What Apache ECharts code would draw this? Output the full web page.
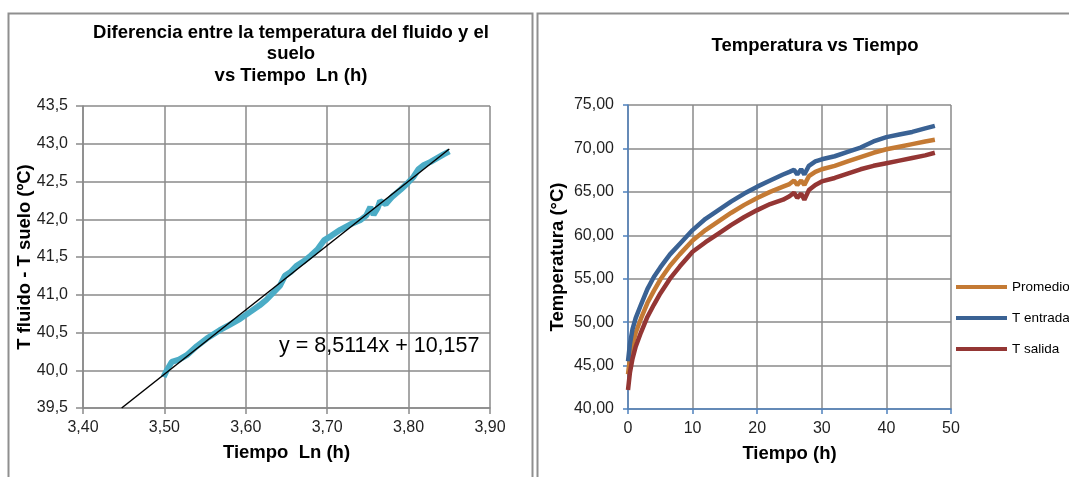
<!DOCTYPE html>
<html>
<head>
<meta charset="utf-8">
<script src="https://cdn.jsdelivr.net/npm/echarts@6/dist/echarts.min.js"></script>
<style>
  html, body { margin: 0; padding: 0; background: #fff; }
  #chart { width: 1069px; height: 477px; }
</style>
</head>
<body>
<div id="chart"></div>
<script>
// grafico 1: diferencia fluido - suelo vs ln(t)
const lnTiempo = [3.499, 3.503, 3.509, 3.518, 3.5275, 3.54, 3.552, 3.568, 3.58, 3.593, 3.605, 3.617, 3.625, 3.634, 3.642, 3.648, 3.655, 3.662, 3.672, 3.68, 3.688, 3.696, 3.705, 3.716, 3.728, 3.741, 3.748, 3.753, 3.757, 3.762, 3.765, 3.772, 3.78, 3.79, 3.798, 3.806, 3.812, 3.819, 3.827, 3.835, 3.843, 3.85];
const difTemp = [39.91, 40.0, 40.11, 40.14, 40.2, 40.32, 40.42, 40.53, 40.6, 40.68, 40.77, 40.86, 40.93, 41.03, 41.12, 41.25, 41.3, 41.38, 41.45, 41.52, 41.6, 41.72, 41.78, 41.86, 41.93, 41.99, 42.05, 42.16, 42.06, 42.15, 42.24, 42.2, 42.3, 42.39, 42.47, 42.56, 42.66, 42.72, 42.76, 42.81, 42.86, 42.9];
// linea de tendencia (extremos)
const tendX = [3.4475, 3.85];
const tendY = [39.5, 42.93];

// grafico 2: temperaturas vs tiempo
const tiempo = [0, 0.3, 0.7, 1.2, 2, 3, 4, 5, 6.5, 8, 10, 12, 14, 16, 18, 20, 22, 24, 25, 25.7, 26.2, 26.8, 27.3, 28, 29, 30, 32, 34, 36, 38, 40, 42, 44, 46, 47.5];
const promedio = [44.0, 45.8, 47.4, 48.8, 50.4, 52.2, 53.6, 54.9, 56.5, 57.8, 59.4, 60.6, 61.6, 62.6, 63.5, 64.3, 65.0, 65.6, 65.9, 66.3, 65.8, 66.3, 65.8, 66.8, 67.3, 67.6, 68.0, 68.5, 69.0, 69.5, 69.9, 70.2, 70.5, 70.8, 71.0];
const tEntrada = [45.5, 47.5, 49.2, 50.5, 52.0, 53.8, 55.2, 56.3, 57.8, 59.0, 60.6, 61.9, 62.9, 63.9, 64.8, 65.6, 66.3, 67.0, 67.3, 67.55, 67.0, 67.6, 67.0, 68.0, 68.5, 68.75, 69.1, 69.6, 70.1, 70.8, 71.3, 71.6, 71.9, 72.3, 72.6];
const tSalida = [42.2, 44.2, 45.8, 47.2, 48.8, 50.6, 52.0, 53.3, 55.0, 56.4, 58.1, 59.2, 60.2, 61.2, 62.1, 62.9, 63.6, 64.1, 64.5, 64.9, 64.3, 64.8, 64.1, 65.2, 65.8, 66.2, 66.6, 67.1, 67.6, 68.0, 68.3, 68.6, 68.9, 69.2, 69.5];

const FONT = 'Liberation Sans, Arial, sans-serif';
const gris = '#8a8a8a';
const azulEje = '#4f81bd';

const pares = (xs, ys) => xs.map((x, i) => [x, ys[i]]);
const coma = d => v => v.toFixed(d).replace('.', ',');

const etiqueta = { color: '#1f1f1f', fontSize: 16, fontFamily: FONT };
const nombreEje = { color: '#000', fontSize: 18.5, fontWeight: 'bold', fontFamily: FONT };
const rejilla = { show: true, lineStyle: { color: gris, width: 1.5 } };

const chart = echarts.init(document.getElementById('chart'));

const option = {
  animation: false,
  backgroundColor: '#fff',
  title: [
    {
      text: 'Diferencia entre la temperatura del fluido y el\nsuelo\nvs Tiempo  Ln (h)',
      left: 286, top: 17, textAlign: 'center',
      textStyle: { fontSize: 18.5, fontWeight: 'bold', color: '#000', fontFamily: FONT, lineHeight: 21.5 }
    },
    {
      text: 'Temperatura vs Tiempo',
      left: 810, top: 31, textAlign: 'center',
      textStyle: { fontSize: 18.5, fontWeight: 'bold', color: '#000', fontFamily: FONT }
    }
  ],
  legend: {
    orient: 'vertical',
    left: 951, top: 275,
    icon: 'rect',
    itemWidth: 51, itemHeight: 4, itemGap: 17,
    textStyle: { fontSize: 13.5, color: '#000', fontFamily: FONT },
    data: ['Promedio', 'T entrada', 'T salida']
  },
  grid: [
    { left: 83, top: 106, width: 407, height: 302 },
    { left: 628, top: 105, width: 323, height: 304 }
  ],
  xAxis: [
    {
      gridIndex: 0, type: 'value', min: 3.4, max: 3.9, interval: 0.1,
      name: 'Tiempo  Ln (h)', nameLocation: 'middle', nameGap: 35, nameMoveOverlap: false, nameTextStyle: nombreEje,
      axisLine: { lineStyle: { color: gris, width: 1.5 } },
      axisTick: { show: true, length: 6, lineStyle: { color: gris, width: 1.5 } },
      axisLabel: Object.assign({ margin: 12, formatter: coma(2) }, etiqueta),
      splitLine: rejilla
    },
    {
      gridIndex: 1, type: 'value', min: 0, max: 50, interval: 10,
      name: 'Tiempo (h)', nameLocation: 'middle', nameGap: 35, nameMoveOverlap: false, nameTextStyle: nombreEje,
      axisLine: { lineStyle: { color: azulEje, width: 1.5 } },
      axisTick: { show: true, length: 5, lineStyle: { color: azulEje, width: 1.5 } },
      axisLabel: Object.assign({ margin: 12 }, etiqueta),
      splitLine: rejilla
    }
  ],
  yAxis: [
    {
      gridIndex: 0, type: 'value', min: 39.5, max: 43.5, interval: 0.5,
      name: 'T fluido - T suelo (ºC)', nameLocation: 'middle', nameGap: 49, nameMoveOverlap: false, nameTextStyle: nombreEje,
      axisLine: { show: true, lineStyle: { color: gris, width: 1.5 } },
      axisTick: { show: true, length: 7, lineStyle: { color: gris, width: 1.5 } },
      axisLabel: Object.assign({ margin: 15, formatter: coma(1) }, etiqueta),
      splitLine: rejilla
    },
    {
      gridIndex: 1, type: 'value', min: 40, max: 75, interval: 5,
      name: 'Temperatura (°C)', nameLocation: 'middle', nameGap: 61, nameMoveOverlap: false, nameTextStyle: nombreEje,
      axisLine: { show: true, lineStyle: { color: azulEje, width: 1.5 } },
      axisTick: { show: true, length: 5, lineStyle: { color: azulEje, width: 1.5 } },
      axisLabel: Object.assign({ margin: 14, formatter: coma(2) }, etiqueta),
      splitLine: rejilla
    }
  ],
  series: [
    {
      type: 'line', xAxisIndex: 0, yAxisIndex: 0, showSymbol: false,
      data: pares(lnTiempo, difTemp),
      lineStyle: { color: '#4bacc6', width: 6 }, itemStyle: { color: '#4bacc6' }
    },
    {
      type: 'line', xAxisIndex: 0, yAxisIndex: 0, showSymbol: false,
      data: pares(tendX, tendY),
      lineStyle: { color: '#000', width: 1.5 }, itemStyle: { color: '#000' }
    },
    {
      name: 'Promedio', type: 'line', xAxisIndex: 1, yAxisIndex: 1, showSymbol: false,
      data: pares(tiempo, promedio),
      lineStyle: { color: '#c47a34', width: 4.5 }, itemStyle: { color: '#c47a34' }
    },
    {
      name: 'T entrada', type: 'line', xAxisIndex: 1, yAxisIndex: 1, showSymbol: false,
      data: pares(tiempo, tEntrada),
      lineStyle: { color: '#3a6294', width: 4.5 }, itemStyle: { color: '#3a6294' }
    },
    {
      name: 'T salida', type: 'line', xAxisIndex: 1, yAxisIndex: 1, showSymbol: false,
      data: pares(tiempo, tSalida),
      lineStyle: { color: '#943634', width: 4.5 }, itemStyle: { color: '#943634' }
    }
  ],
  graphic: [
    // marcos de cada grafico
    { type: 'rect', shape: { x: 8.5, y: 13.5, width: 524, height: 480 }, style: { fill: null, stroke: '#8f8f8f', lineWidth: 2 }, silent: true },
    { type: 'rect', shape: { x: 537.5, y: 13.5, width: 540, height: 480 }, style: { fill: null, stroke: '#8f8f8f', lineWidth: 2 }, silent: true },
    // ecuacion de la tendencia
    { type: 'text', left: 279, top: 335, style: { text: 'y = 8,5114x + 10,157', fontSize: 21.5, fontFamily: FONT, fill: '#000' }, silent: true }
  ]
};

chart.setOption(option);
</script>
</body>
</html>
